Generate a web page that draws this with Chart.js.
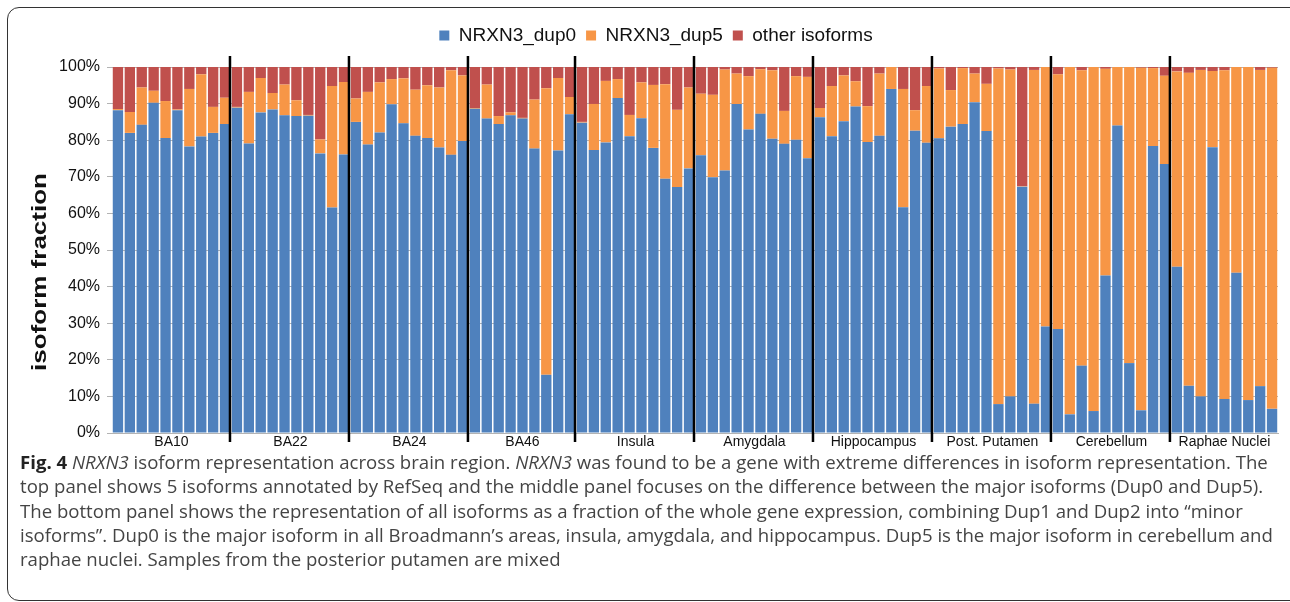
<!DOCTYPE html>
<html>
<head>
<meta charset="utf-8">
<script src="https://cdn.jsdelivr.net/npm/chart.js@4/dist/chart.umd.min.js"></script>
<style>
  html, body { margin: 0; padding: 0; background: #fff; width: 1290px; height: 602px; overflow: hidden; }
  #chart { position: absolute; left: 0; top: 0; }
  .frame {
    position: absolute; left: 7px; top: 7px; width: 1300px; height: 592px;
    border: 1.5px solid #333; border-radius: 12px; pointer-events: none;
  }
  .caption {
    position: absolute; left: 20px; top: 450px;
    font-family: "Open Sans", sans-serif; font-size: 18.6px; line-height: 24.3px;
    color: #444; white-space: nowrap;
  }
  .caption b { color: #222; }
</style>
</head>
<body>
<canvas id="chart" width="1290" height="455"></canvas>
<div class="frame"></div>
<div class="caption">
  <b>Fig. 4</b> <i>NRXN3</i> isoform representation across brain region. <i>NRXN3</i> was found to be a gene with extreme differences in isoform representation. The<br>
  top panel shows 5 isoforms annotated by RefSeq and the middle panel focuses on the difference between the major isoforms (Dup0 and Dup5).<br>
  The bottom panel shows the representation of all isoforms as a fraction of the whole gene expression, combining Dup1 and Dup2 into “minor<br>
  isoforms”. Dup0 is the major isoform in all Broadmann’s areas, insula, amygdala, and hippocampus. Dup5 is the major isoform in cerebellum and<br>
  raphae nuclei. Samples from the posterior putamen are mixed
</div>
<script>
// brain regions and how many samples (bars) each one has
const regions = ["BA10", "BA22", "BA24", "BA46", "Insula", "Amygdala", "Hippocampus", "Post. Putamen", "Cerebellum", "Raphae Nuclei"];
const regionSizes = [10, 10, 10, 9, 10, 10, 10, 10, 10, 9];

// isoform fractions (%) per sample, one line per region
const dup0 = [
  88.2, 82.0, 84.2, 90.2, 80.6, 88.2, 78.3, 81.0, 82.0, 84.4,
  88.9, 79.1, 87.6, 88.4, 86.8, 86.6, 86.7, 76.4, 61.6, 76.1,
  85.0, 78.8, 82.1, 89.8, 84.6, 81.2, 80.6, 78.0, 76.0, 79.8,
  88.6, 85.9, 84.4, 86.8, 85.9, 77.7, 15.9, 77.2, 87.1,
  84.8, 77.3, 79.4, 91.5, 81.1, 86.0, 77.9, 69.5, 67.2, 72.3,
  75.9, 69.9, 71.7, 89.9, 82.9, 87.2, 80.4, 79.0, 80.1, 75.1,
  86.3, 81.1, 85.2, 89.2, 79.5, 81.2, 94.0, 61.7, 82.6, 79.3,
  80.5, 83.7, 84.4, 90.4, 82.5, 7.9, 10.0, 67.3, 8.0, 29.1,
  28.4, 5.1, 18.4, 6.0, 43.0, 84.0, 19.1, 6.2, 78.4, 73.5,
  45.4, 12.9, 10.0, 78.1, 9.3, 43.8, 9.0, 12.8, 6.6
];
const dup5 = [
  0.3, 5.7, 10.2, 3.3, 10.1, 0.2, 15.7, 17.0, 7.1, 7.2,
  0.2, 14.1, 9.4, 4.5, 8.4, 4.3, 0.2, 3.8, 33.2, 19.8,
  6.4, 14.4, 13.7, 6.9, 12.3, 12.6, 14.4, 16.4, 23.1, 17.9,
  0.2, 9.3, 2.2, 0.8, 0.2, 13.4, 78.3, 19.8, 4.7,
  0.2, 12.6, 16.8, 5.2, 5.8, 9.8, 17.2, 25.8, 21.1, 22.1,
  16.8, 22.5, 27.6, 8.3, 14.6, 12.2, 18.7, 9.0, 17.4, 22.2,
  2.5, 13.7, 12.5, 6.9, 9.8, 17.0, 6.0, 32.3, 5.6, 15.5,
  19.1, 10.0, 15.3, 7.8, 12.9, 91.7, 89.3, 0.1, 91.2, 70.9,
  69.6, 94.9, 80.7, 94.0, 56.5, 16.0, 80.9, 93.6, 21.3, 24.1,
  53.4, 85.5, 89.2, 20.8, 89.8, 56.2, 91.0, 86.4, 93.2
];
const other = [
  11.5, 12.3, 5.6, 6.5, 9.3, 11.6, 6.0, 2.0, 10.9, 8.4,
  10.9, 6.8, 3.0, 7.1, 4.8, 9.1, 13.1, 19.8, 5.2, 4.1,
  8.6, 6.8, 4.2, 3.3, 3.1, 6.2, 5.0, 5.6, 0.9, 2.3,
  11.2, 4.8, 13.4, 12.4, 13.9, 8.9, 5.8, 3.0, 8.2,
  15.0, 10.1, 3.8, 3.3, 13.1, 4.2, 4.9, 4.7, 11.7, 5.6,
  7.3, 7.6, 0.7, 1.8, 2.5, 0.6, 0.9, 12.0, 2.5, 2.7,
  11.2, 5.2, 2.3, 3.9, 10.7, 1.8, 0.0, 6.0, 11.8, 5.2,
  0.4, 6.3, 0.3, 1.8, 4.6, 0.4, 0.7, 32.6, 0.8, 0.0,
  2.0, 0.0, 0.9, 0.0, 0.5, 0.0, 0.0, 0.2, 0.3, 2.4,
  1.2, 1.6, 0.8, 1.1, 0.9, 0.0, 0.0, 0.8, 0.2
];

// one label per bar, e.g. "BA10 3"
const labels = [];
regions.forEach((r, i) => {
  for (let k = 1; k <= regionSizes[i]; k++) labels.push(`${r} ${k}`);
});

// region names under the axis, black separators between regions, y title
const regionDecor = {
  id: "regionDecor",
  afterDatasetsDraw(chart) {
    const { ctx, chartArea } = chart;
    const x = chart.scales.x;
    ctx.save();
    ctx.fillStyle = "#111";
    ctx.strokeStyle = "#000";
    ctx.lineWidth = 2.5;
    ctx.font = '14px "Liberation Sans", Arial, sans-serif';
    ctx.textAlign = "center";
    ctx.textBaseline = "middle";
    let start = 0;
    regions.forEach((name, g) => {
      const end = start + regionSizes[g] - 1;
      const mid = (x.getPixelForValue(start) + x.getPixelForValue(end)) / 2;
      ctx.fillText(name, mid, chartArea.bottom + 9);
      if (g > 0) {
        const sep = (x.getPixelForValue(start - 1) + x.getPixelForValue(start)) / 2 - 1;
        ctx.beginPath();
        ctx.moveTo(sep, 56);
        ctx.lineTo(sep, chartArea.bottom + 9);
        ctx.stroke();
      }
      start = end + 1;
    });

    ctx.translate(40, 272);
    ctx.rotate(-Math.PI / 2);
    ctx.scale(1.3, 1);
    ctx.font = 'bold 20px "Liberation Sans", Arial, sans-serif';
    ctx.fillText("isoform fraction", 0, 0);
    ctx.restore();
  }
};

// fixed legend height so the plot starts where it should, legend nudged right
const legendPlace = {
  id: "legendPlace",
  beforeInit(chart) {
    const fit = chart.legend.fit;
    chart.legend.fit = function () {
      fit.bind(chart.legend)();
      this.height = 51;
    };
  },
  afterUpdate(chart) {
    chart.legend.left += 17;
    chart.legend.right += 17;
  }
};

Chart.defaults.font.family = '"Liberation Sans", Arial, sans-serif';
Chart.defaults.color = "#111";

new Chart(document.getElementById("chart"), {
  type: "bar",
  data: {
    labels: labels,
    datasets: [
      { label: "NRXN3_dup0", data: dup0, backgroundColor: "#4F81BD" },
      { label: "NRXN3_dup5", data: dup5, backgroundColor: "#F79646" },
      { label: "other isoforms", data: other, backgroundColor: "#C0504D" }
    ]
  },
  options: {
    responsive: false,
    animation: false,
    devicePixelRatio: 1,
    layout: { padding: { top: 16, left: 0, right: 12, bottom: 0 } },
    datasets: { bar: { barPercentage: 0.87, categoryPercentage: 1.0, borderWidth: 0 } },
    plugins: {
      legend: {
        position: "top",
        labels: { boxWidth: 10, boxHeight: 10, padding: 10, font: { size: 19 } }
      },
      tooltip: { enabled: false }
    },
    scales: {
      x: {
        stacked: true,
        ticks: { display: false },
        grid: { display: false },
        border: { display: true, color: "#b3b3b3", width: 1 },
        afterFit(scale) { scale.height = 22; }
      },
      y: {
        stacked: true,
        min: 0,
        max: 100,
        ticks: { stepSize: 10, padding: 7, font: { size: 16 }, callback: (v) => v + "%" },
        grid: { color: "#b3b3b3", tickLength: 5 },
        border: { display: false },
        afterFit(scale) { scale.width = 112; }
      }
    }
  },
  plugins: [legendPlace, regionDecor]
});
</script>
</body>
</html>
